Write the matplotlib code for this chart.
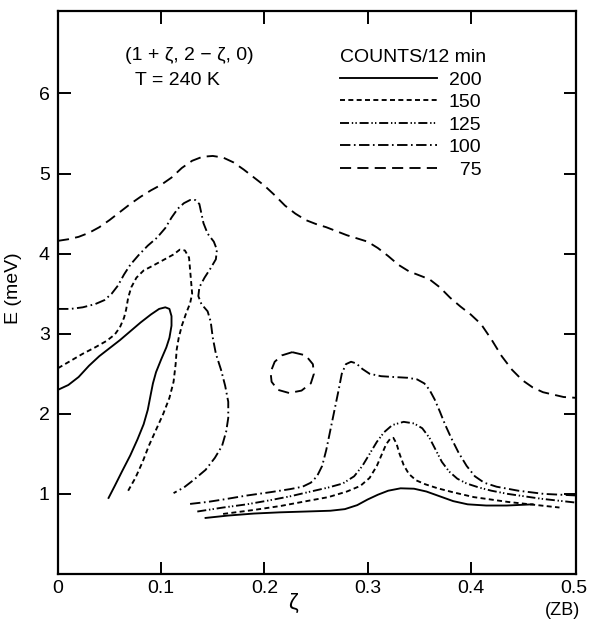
import matplotlib
matplotlib.use("Agg")
import matplotlib.pyplot as plt

plt.rcParams['font.family'] = ['Liberation Sans', 'DejaVu Sans']
plt.rcParams['lines.scale_dashes'] = False

# ---- data (zeta, energy in meV) ----
c200_left_x = [0, 0.01, 0.02, 0.03, 0.04, 0.05, 0.06, 0.07, 0.08, 0.09, 0.098, 0.104, 0.108, 0.110, 0.110, 0.108, 0.105, 0.100, 0.095, 0.092, 0.090, 0.087, 0.083, 0.077, 0.070, 0.062, 0.055, 0.049]
c200_left_y = [2.3, 2.36, 2.46, 2.6, 2.72, 2.82, 2.92, 3.03, 3.14, 3.24, 3.31, 3.33, 3.31, 3.22, 3.1, 2.95, 2.83, 2.68, 2.52, 2.38, 2.25, 2.05, 1.87, 1.68, 1.48, 1.28, 1.1, 0.95]
c200_right_x = [0.143, 0.165, 0.19, 0.215, 0.24, 0.264, 0.278, 0.29, 0.30, 0.31, 0.32, 0.332, 0.345, 0.357, 0.37, 0.383, 0.397, 0.415, 0.435, 0.46]
c200_right_y = [0.70, 0.73, 0.755, 0.77, 0.78, 0.79, 0.81, 0.86, 0.93, 0.99, 1.04, 1.07, 1.065, 1.03, 0.97, 0.91, 0.87, 0.855, 0.855, 0.87]

c150_left_x = [0, 0.012, 0.024, 0.036, 0.047, 0.055, 0.060, 0.064, 0.066, 0.068, 0.071, 0.076, 0.083, 0.092, 0.102, 0.112, 0.118, 0.123, 0.127, 0.128, 0.129, 0.130, 0.128, 0.124, 0.120, 0.117, 0.115, 0.114, 0.112, 0.108, 0.102, 0.095, 0.088, 0.082, 0.075, 0.068]
c150_left_y = [2.57, 2.66, 2.75, 2.83, 2.91, 2.99, 3.08, 3.2, 3.3, 3.45, 3.58, 3.7, 3.79, 3.85, 3.92, 3.99, 4.05, 4.04, 3.95, 3.8, 3.65, 3.5, 3.38, 3.25, 3.1, 2.95, 2.8, 2.62, 2.4, 2.2, 2.0, 1.8, 1.6, 1.4, 1.2, 1.04]
c150_right_x = [0.16, 0.19, 0.216, 0.245, 0.262, 0.28, 0.293, 0.302, 0.309, 0.314, 0.318, 0.322, 0.325, 0.328, 0.331, 0.335, 0.340, 0.347, 0.356, 0.368, 0.383, 0.403, 0.436, 0.486]
c150_right_y = [0.75, 0.80, 0.85, 0.92, 0.96, 1.03, 1.1, 1.2, 1.35, 1.5, 1.62, 1.69, 1.70, 1.63, 1.5, 1.36, 1.25, 1.17, 1.12, 1.07, 1.02, 0.96, 0.9, 0.83]

c125_right_x = [0.135, 0.16, 0.183, 0.205, 0.225, 0.245, 0.262, 0.276, 0.287, 0.295, 0.302, 0.309, 0.316, 0.324, 0.335, 0.345, 0.353, 0.360, 0.366, 0.372, 0.379, 0.387, 0.396, 0.408, 0.42, 0.436, 0.468, 0.503]
c125_right_y = [0.78, 0.83, 0.87, 0.92, 0.97, 1.03, 1.08, 1.13, 1.22, 1.35, 1.5, 1.65, 1.77, 1.86, 1.9, 1.88, 1.82, 1.70, 1.55, 1.40, 1.28, 1.19, 1.13, 1.08, 1.04, 1.0, 0.94, 0.89]

c100_left_x = [0, 0.012, 0.024, 0.036, 0.045, 0.052, 0.058, 0.064, 0.07, 0.078, 0.087, 0.096, 0.104, 0.11, 0.116, 0.122, 0.128, 0.133, 0.137, 0.139, 0.141, 0.145, 0.151, 0.154, 0.153, 0.148, 0.142, 0.137, 0.136, 0.139, 0.145, 0.148, 0.150, 0.153, 0.158, 0.162, 0.165, 0.165, 0.163, 0.159, 0.152, 0.143, 0.131, 0.122, 0.112]
c100_left_y = [3.31, 3.31, 3.33, 3.37, 3.42, 3.5, 3.6, 3.74, 3.86, 3.98, 4.1, 4.2, 4.32, 4.45, 4.56, 4.63, 4.67, 4.67, 4.62, 4.5, 4.38, 4.25, 4.15, 4.05, 3.93, 3.82, 3.7, 3.58, 3.47, 3.37, 3.28, 3.15, 2.95, 2.75, 2.55, 2.35, 2.15, 1.95, 1.78, 1.6, 1.45, 1.3, 1.17, 1.08, 1.01]
c100_right_x = [0.128, 0.145, 0.16, 0.183, 0.205, 0.225, 0.237, 0.245, 0.251, 0.256, 0.260, 0.264, 0.268, 0.272, 0.275, 0.279, 0.284, 0.289, 0.295, 0.302, 0.313, 0.325, 0.339, 0.348, 0.355, 0.360, 0.365, 0.370, 0.375, 0.381, 0.388, 0.396, 0.404, 0.413, 0.425, 0.446, 0.471, 0.503]
c100_right_y = [0.875, 0.9, 0.93, 0.98, 1.02, 1.06, 1.09, 1.14, 1.22, 1.35, 1.55, 1.8, 2.05, 2.3, 2.5, 2.62, 2.65, 2.63, 2.56, 2.5, 2.47, 2.46, 2.45, 2.43, 2.38, 2.3, 2.18, 2.03, 1.87, 1.7, 1.52, 1.35, 1.22, 1.14, 1.09, 1.04, 1.0, 0.98]

c75_x = [0, 0.01, 0.02, 0.03, 0.04, 0.05, 0.06, 0.07, 0.08, 0.09, 0.1, 0.11, 0.12, 0.13, 0.14, 0.15, 0.16, 0.17, 0.18, 0.19, 0.2, 0.21, 0.22, 0.23, 0.24, 0.25, 0.26, 0.27, 0.28, 0.29, 0.30, 0.31, 0.32, 0.33, 0.34, 0.35, 0.36, 0.37, 0.38, 0.39, 0.40, 0.41, 0.42, 0.43, 0.44, 0.45, 0.46, 0.47, 0.48, 0.49, 0.502]
c75_y = [4.16, 4.18, 4.21, 4.26, 4.33, 4.42, 4.52, 4.62, 4.71, 4.79, 4.86, 4.95, 5.07, 5.16, 5.21, 5.22, 5.2, 5.14, 5.05, 4.95, 4.85, 4.73, 4.6, 4.5, 4.42, 4.37, 4.33, 4.28, 4.23, 4.19, 4.15, 4.07, 3.97, 3.86, 3.78, 3.73, 3.68, 3.58, 3.45, 3.34, 3.24, 3.12, 2.93, 2.72, 2.55, 2.42, 2.33, 2.27, 2.24, 2.21, 2.2]
c75_loop_x = [0.227, 0.240, 0.247, 0.248, 0.245, 0.236, 0.224, 0.213, 0.207, 0.206, 0.210, 0.217, 0.227]
c75_loop_y = [2.77, 2.73, 2.62, 2.5, 2.38, 2.29, 2.26, 2.30, 2.40, 2.52, 2.65, 2.73, 2.77]

x_ticks = [0, 0.1, 0.2, 0.3, 0.4, 0.5]
x_ticklabels = ['0', '0.1', '0.2', '0.3', '0.4', '0.5']
y_ticks = [1, 2, 3, 4, 5, 6]

styles = {
    '200': dict(linestyle='-'),
    '150': dict(linestyle=(0, (3.6, 2.4))),
    '125': dict(linestyle=(0, (6.5, 2.0, 1.0, 1.6, 1.0, 2.0))),
    '100': dict(linestyle=(0, (7.5, 2.5, 1.2, 2.5))),
    '75': dict(linestyle=(0, (8.0, 4.5))),
}
LW = 1.35
FS = 14

fig = plt.figure(figsize=(5.92, 6.21), dpi=100)
ax = fig.add_axes([58/592, 1-574/621, (576-58)/592, (574-11)/621])

def draw(x, y, lev, label=None):
    return ax.plot(x, y, color='black', lw=LW, label=label, **styles[lev])[0]

h200 = draw(c200_left_x, c200_left_y, '200', '200')
draw(c200_right_x, c200_right_y, '200')
h150 = draw(c150_left_x, c150_left_y, '150', '150')
draw(c150_right_x, c150_right_y, '150')
h125 = draw(c125_right_x, c125_right_y, '125', '125')
h100 = draw(c100_left_x, c100_left_y, '100', '100')
draw(c100_right_x, c100_right_y, '100')
h75 = draw(c75_x, c75_y, '75', '\u200775')
draw(c75_loop_x, c75_loop_y, '75')

ax.set_xlim(0, 0.502)
ax.set_ylim(0, 7.03)
ax.set_xticks(x_ticks)
ax.set_xticklabels(x_ticklabels)
ax.set_yticks(y_ticks)
for s in ax.spines.values():
    s.set_linewidth(1.6)
ax.tick_params(direction='in', length=9, width=1.4, top=True, right=True,
               labelsize=FS, pad=6)
ax.tick_params(axis='x', pad=4)
xt = ax.xaxis.get_major_ticks()
for i in (0, len(xt) - 1):
    xt[i].tick1line.set_visible(False)
    xt[i].tick2line.set_visible(False)

ax.set_ylabel('E (meV)', fontsize=FS)
ax.yaxis.set_label_coords(-0.07, 0.508)
ax.text(0.228, -0.053, '\u03b6', transform=ax.get_xaxis_transform(),
        ha='center', va='center', fontsize=FS + 2)
ax.text(0.973, -0.065, '(ZB)', transform=ax.transAxes, ha='center',
        va='center', fontsize=FS - 1)

ax.text(0.065, 6.47, '(1 + \u03b6, 2 \u2212 \u03b6, 0)', fontsize=FS, ha='left', va='center')
ax.text(0.075, 6.16, 'T = 240 K', fontsize=FS, ha='left', va='center')

leg = ax.legend(handles=[h200, h150, h125, h100, h75],
                title='COUNTS/12 min', loc='upper left',
                bbox_to_anchor=(0.544, 0.932), frameon=False,
                fontsize=FS, title_fontsize=FS, handlelength=5.0,
                handletextpad=0.6, labelspacing=0.25, borderpad=0,
                borderaxespad=0, alignment='left')

fig.savefig('out.png', dpi=100)
